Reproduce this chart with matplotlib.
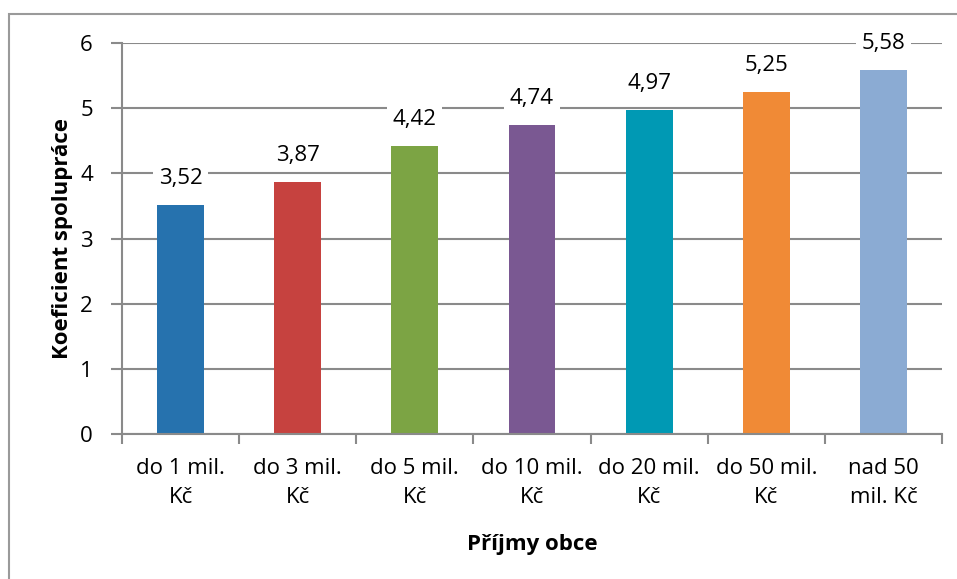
import matplotlib
matplotlib.use("Agg")
import matplotlib.pyplot as plt
from matplotlib.patches import Rectangle

categories = ["do 1 mil.\nKč", "do 3 mil.\nKč", "do 5 mil.\nKč", "do 10 mil.\nKč",
              "do 20 mil.\nKč", "do 50 mil.\nKč", "nad 50\nmil. Kč"]
values = [3.52, 3.87, 4.42, 4.74, 4.97, 5.25, 5.58]
value_labels = ["3,52", "3,87", "4,42", "4,74", "4,97", "5,25", "5,58"]
colors = ["#2672AE", "#C6423F", "#7CA444", "#7A5892", "#0099B4", "#F08A36", "#8BABD3"]
yticks = [0, 1, 2, 3, 4, 5, 6]

plt.rcParams['font.family'] = ['Open Sans', 'DejaVu Sans']
fs = 16
fig = plt.figure(figsize=(9.57, 5.79), dpi=100)
ax = fig.add_axes([122/957, 1-434/579, (942-122)/957, (434-43)/579])

gc = "#8A8A8A"
x = list(range(len(values)))
ax.bar(x, values, width=0.4, color=colors, zorder=3)
ax.set_xlim(-0.5, len(values)-0.5)
ax.set_ylim(0, 6)
ax.set_yticks(yticks)
ax.set_yticklabels([str(v) for v in yticks], fontsize=fs)
ax.set_xticks([i + 0.5 for i in range(-1, len(values))], minor=False)
ax.set_xticklabels([])
ax.set_xticks(x, minor=True)
ax.set_xticklabels(categories, minor=True, fontsize=fs, linespacing=1.5)
ax.tick_params(axis='x', which='minor', length=0, pad=17)
ax.tick_params(axis='x', which='major', length=7, width=1.5, color=gc)
ax.tick_params(axis='y', length=8, width=1.5, color=gc, pad=13)
ax.grid(axis='y', color=gc, linewidth=1.5, zorder=0)
for s in ['top', 'right']:
    ax.spines[s].set_visible(False)
for s in ['left', 'bottom']:
    ax.spines[s].set_color(gc)
    ax.spines[s].set_linewidth(1.5)
    ax.spines[s].set_zorder(4)

for xi, v, lab in zip(x, values, value_labels):
    ax.annotate(lab, (xi, v), xytext=(0, 19), textcoords='offset points', ha='center', va='center',
                fontsize=fs, bbox=dict(boxstyle='square,pad=0.25', fc='white', ec='none'), zorder=5)

ax.set_xlabel("Příjmy obce", fontsize=fs, fontweight='bold', labelpad=19)
ax.set_ylabel("Koeficient spolupráce", fontsize=fs, fontweight='bold', labelpad=5)

fig.patches.append(Rectangle((9/957, -0.1), 1.2, 1 - 14/579 + 0.1, transform=fig.transFigure,
                             fill=False, edgecolor="#9A9A9A", linewidth=1.5))

fig.savefig("out.png", dpi=100)
